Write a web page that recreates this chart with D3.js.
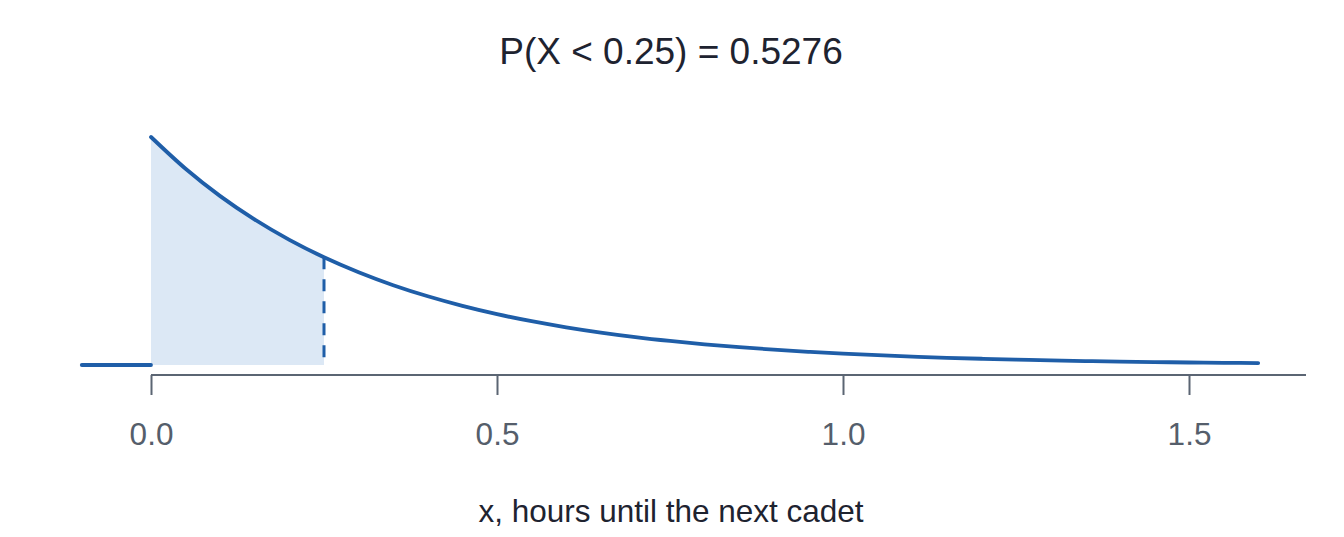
<!DOCTYPE html>
<html>
<head>
<meta charset="utf-8">
<script src="https://cdn.jsdelivr.net/npm/d3@7"></script>
<style>
  html, body { margin: 0; padding: 0; background: #fff; }
  svg text { font-family: "Liberation Sans", Arial, sans-serif; }
</style>
</head>
<body>
<svg id="chart"></svg>
<script>
// =====================================================
// Data
// =====================================================
const xValues = [0.00, 0.05, 0.10, 0.15, 0.20, 0.25, 0.30, 0.35, 0.40, 0.45,
                 0.50, 0.55, 0.60, 0.65, 0.70, 0.75, 0.80, 0.85, 0.90, 0.95,
                 1.00, 1.05, 1.10, 1.15, 1.20, 1.25, 1.30, 1.35, 1.40, 1.45,
                 1.50, 1.55, 1.60];
const density = [3.000, 2.582, 2.222, 1.913, 1.646, 1.417, 1.220, 1.050, 0.904, 0.778,
                 0.669, 0.576, 0.496, 0.427, 0.367, 0.316, 0.272, 0.234, 0.202, 0.174,
                 0.149, 0.129, 0.111, 0.095, 0.082, 0.071, 0.061, 0.052, 0.045, 0.039,
                 0.033, 0.029, 0.025];
const zeroSegment = [-0.1, 0.0];     // density is 0 left of the support
const cutoff      = 0.25;
const tickValues  = [0.0, 0.5, 1.0, 1.5];
const titleText   = "P(X < 0.25) = 0.5276";
const xLabel      = "x, hours until the next cadet";

// =====================================================
// Layout
// =====================================================
const width  = 1344;
const height = 537;
const lineColor = "#1f5ea8";
const fillColor = "#dce8f5";
const axisColor = "#5b6573";

const svg = d3.select("#chart")
  .attr("width", width)
  .attr("height", height);

const x = d3.scaleLinear().domain([0, 1.5]).range([151, 1189]);
const y = d3.scaleLinear().domain([0, 3]).range([365, 137]);
const axisY   = 375;
const axisEnd = 1306;

const pts = xValues.map((v, i) => ({ x: v, y: density[i] }));

// ----------
// Shaded area P(X < cutoff)
// =================
const area = d3.area()
  .x(d => x(d.x))
  .y0(y(0))
  .y1(d => y(d.y))
  .curve(d3.curveMonotoneX);
svg.append("path")
  .datum(pts.filter(d => d.x <= cutoff))
  .attr("fill", fillColor)
  .attr("d", area);

// ----------
// Dashed cutoff line
// =================
const cutIdx = xValues.indexOf(cutoff);
svg.append("line")
  .attr("x1", x(cutoff)).attr("x2", x(cutoff))
  .attr("y1", y(density[cutIdx])).attr("y2", y(0))
  .attr("stroke", lineColor)
  .attr("stroke-width", 3)
  .attr("stroke-dasharray", "12,10");

// ----------
// Density curve
// =================
const line = d3.line()
  .x(d => x(d.x))
  .y(d => y(d.y))
  .curve(d3.curveMonotoneX);
svg.append("path")
  .datum(pts)
  .attr("fill", "none")
  .attr("stroke", lineColor)
  .attr("stroke-width", 3.8)
  .attr("stroke-linecap", "round")
  .attr("d", line);

svg.append("path")
  .datum(zeroSegment.map(v => ({ x: v, y: 0 })))
  .attr("fill", "none")
  .attr("stroke", lineColor)
  .attr("stroke-width", 3.8)
  .attr("stroke-linecap", "round")
  .attr("d", line);

// ----------
// X axis
// =================
const gx = svg.append("g")
  .attr("transform", `translate(0, ${axisY})`)
  .call(d3.axisBottom(x)
    .tickValues(tickValues)
    .tickFormat(d3.format(".1f"))
    .tickSize(20)
    .tickSizeOuter(0)
    .tickPadding(28));
gx.select(".domain")
  .attr("d", `M${x(0)},0H${axisEnd}`)
  .attr("stroke", axisColor)
  .attr("stroke-width", 2);
gx.selectAll(".tick line")
  .attr("stroke", axisColor)
  .attr("stroke-width", 2);
gx.selectAll(".tick text")
  .attr("fill", "#555e6b")
  .style("font-size", "31.5px");

// ----------
// Titles
// =================
svg.append("text")
  .attr("x", 671)
  .attr("y", 64)
  .attr("text-anchor", "middle")
  .attr("fill", "#1e2330")
  .style("font-size", "37px")
  .text(titleText);

svg.append("text")
  .attr("x", 671)
  .attr("y", 522)
  .attr("text-anchor", "middle")
  .attr("fill", "#1e2330")
  .style("font-size", "31.5px")
  .text(xLabel);
</script>
</body>
</html>
